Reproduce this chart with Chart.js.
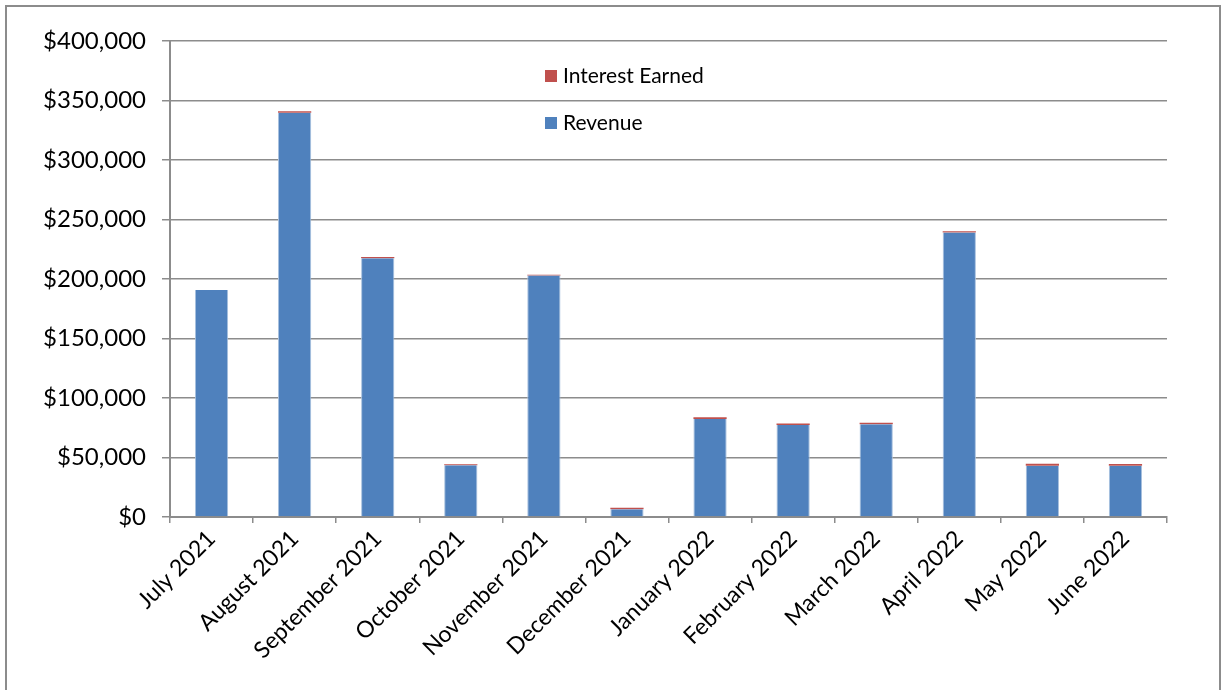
<!DOCTYPE html>
<html>
<head>
<meta charset="utf-8">
<script src="https://cdn.jsdelivr.net/npm/chart.js@4"></script>
<style>
  html, body { margin: 0; padding: 0; background: #fff; overflow: hidden; }
  #wrap { position: relative; width: 1223px; height: 690px; }
  #frame { position: absolute; left: 5px; top: 5px; width: 1216px; height: 700px; border: 2px solid #8c8c8c; box-sizing: border-box; }
  #legend { position: absolute; left: 545px; top: 62px; font-family: Lato, "Open Sans", sans-serif; font-size: 21px; color: #000; }
  #legend div { height: 47px; display: flex; align-items: flex-start; }
  #legend span.box { display: inline-block; width: 12px; height: 12px; margin: 8px 6px 0 0; }
</style>
</head>
<body>
<div id="wrap">
  <div id="frame"></div>
  <canvas id="chart" width="1223" height="690"></canvas>
  <div id="legend"></div>
</div>
<script>
const months = [
  'July 2021', 'August 2021', 'September 2021', 'October 2021', 'November 2021', 'December 2021',
  'January 2022', 'February 2022', 'March 2022', 'April 2022', 'May 2022', 'June 2022'
];
const revenue = [190700, 339800, 217500, 43500, 202900, 6600, 82400, 77300, 78000, 239000, 43000, 43000];
const interestEarned = [-800, 1200, 900, 900, 600, 1200, 1400, 1300, 1200, 1200, 1800, 1500];

const blue = '#4F81BD';
const red = '#C0504D';
const gridColor = '#8c8c8c';
const fontFamily = 'Lato, "Open Sans", sans-serif';

const money = (v) => '$' + v.toLocaleString('en-US');

const chart = new Chart(document.getElementById('chart'), {
  type: 'bar',
  data: {
    labels: months,
    datasets: [
      { label: 'Revenue', data: revenue, backgroundColor: blue, borderColor: '#a7c0de', borderWidth: { left: 1, right: 1 } },
      { label: 'Interest Earned', data: interestEarned, backgroundColor: red },
    ],
  },
  options: {
    responsive: false,
    animation: false,
    layout: { padding: { top: 41, right: 56, left: 0, bottom: 0 } },
    datasets: { bar: { barPercentage: 0.4, categoryPercentage: 1 } },
    plugins: { legend: { display: false }, tooltip: { enabled: false } },
    scales: {
      x: {
        stacked: true,
        offset: true,
        grid: { drawOnChartArea: false, drawTicks: true, tickLength: 6, color: gridColor, lineWidth: 1.5 },
        border: { color: gridColor, width: 2 },
        ticks: { color: '#000', font: { family: fontFamily, size: 23 }, minRotation: 45, maxRotation: 45, padding: 2 },
        afterFit: (scale) => { scale.height = 690 - 517; },
      },
      y: {
        stacked: true,
        min: 0,
        max: 400000,
        grid: { color: gridColor, lineWidth: 1.5, tickLength: 8 },
        border: { color: gridColor, width: 2 },
        ticks: { stepSize: 50000, color: '#000', font: { family: fontFamily, size: 24 }, padding: 16, callback: money },
        afterFit: (scale) => { scale.width = 170; },
      },
    },
  },
});

// legend in the plot area, Interest Earned listed first
const legend = document.getElementById('legend');
[['Interest Earned', red], ['Revenue', blue]].forEach(([name, color]) => {
  const row = document.createElement('div');
  row.innerHTML = `<span class="box" style="background:${color}"></span><span>${name}</span>`;
  legend.appendChild(row);
});
</script>
</body>
</html>
